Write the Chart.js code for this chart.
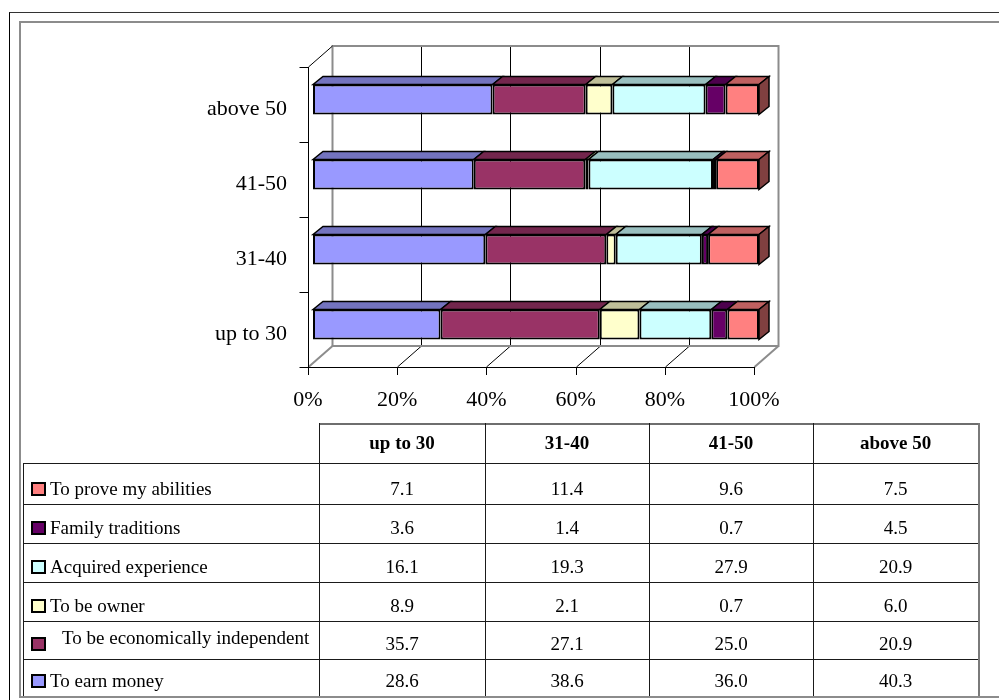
<!DOCTYPE html>
<html>
<head>
<meta charset="utf-8">
<title>Motives by age group</title>
<script src="https://cdn.jsdelivr.net/npm/chart.js@4/dist/chart.umd.min.js"></script>
<style>
  html, body { margin: 0; padding: 0; background: #fff; width: 999px; height: 700px; overflow: hidden;
    font-family: "Times New Roman", "Liberation Serif", serif; }
  #frameOuter { position: absolute; left: 9px; top: 12px; width: 1100px; height: 800px;
    border-left: 1px solid #000; border-top: 1px solid #333; }
  #frameInner { position: absolute; left: 19px; top: 21px; width: 1100px; height: 673px;
    border: 2px solid #8c8c8c; border-right: none; }
  #chartCanvas { position: absolute; left: 0; top: 0; }
  #dataTable { position: absolute; left: 0; top: 0; width: 999px; height: 700px; }
  .hl { position: absolute; height: 0; border-top: 1px solid #1a1a1a; }
  .vl { position: absolute; width: 0; border-left: 1px solid #1a1a1a; }
  .cell { position: absolute; font-size: 19px; line-height: 22px; height: 22px; color: #000; white-space: nowrap; }
  .key { position: absolute; width: 15px; height: 14px; box-sizing: border-box; border: 2px solid #000; }
</style>
</head>
<body>
<div id="frameOuter"></div>
<div id="frameInner"></div>
<canvas id="chartCanvas" width="999" height="440"></canvas>
<div id="dataTable"></div>
<script>
// Age groups (bar rows / table columns)
const ageGroups = ['up to 30', '31-40', '41-50', 'above 50'];

// Motive series, in stacking order from the left
const seriesNames = [
  'To earn money',
  'To be economically independent',
  'To be owner',
  'Acquired experience',
  'Family traditions',
  'To prove my abilities'
];

// Values per age group
const toEarnMoney        = [28.6, 38.6, 36.0, 40.3];
const economicallyIndep  = [35.7, 27.1, 25.0, 20.9];
const toBeOwner          = [8.9, 2.1, 0.7, 6.0];
const acquiredExperience = [16.1, 19.3, 27.9, 20.9];
const familyTraditions   = [3.6, 1.4, 0.7, 4.5];
const toProveAbilities   = [7.1, 11.4, 9.6, 7.5];

const percentTicks = [0, 20, 40, 60, 80, 100];

const seriesValues = [toEarnMoney, economicallyIndep, toBeOwner, acquiredExperience, familyTraditions, toProveAbilities];
const seriesColors = ['#9999FF', '#993366', '#FFFFCC', '#CCFFFF', '#660066', '#FF8080'];

const serif = '"Times New Roman", "Liberation Serif", serif';

// 100% stacking: each value as a share of its age group's total
const totals = ageGroups.map((_, c) => seriesValues.reduce((s, arr) => s + arr[c], 0));
const shares = seriesValues.map(arr => arr.map((v, c) => v / totals[c] * 100));

function shade(hex, f) {
  const n = parseInt(hex.slice(1), 16);
  const r = Math.round(((n >> 16) & 255) * f), g = Math.round(((n >> 8) & 255) * f), b = Math.round((n & 255) * f);
  return `rgb(${r},${g},${b})`;
}

// Offsets of the front (axis) plane, the back wall and the bar depth relative to the bar plane
const FRONT = { dx: -5, dy: 5 };
const BACK = { dx: 19, dy: -16 };
const BAR_DEPTH = { dx: 10, dy: -8 };

const box3d = {
  id: 'box3d',
  beforeDatasetsDraw(chart) {
    const { ctx, chartArea: a, scales: { x } } = chart;
    const fx = v => Math.round(x.getPixelForValue(v) + FRONT.dx) + 0.5;
    const bx = v => Math.round(x.getPixelForValue(v) + BACK.dx) + 0.5;
    const topF = a.top + FRONT.dy, botF = a.bottom + FRONT.dy;
    const topB = a.top + BACK.dy, botB = a.bottom + BACK.dy;
    const line = (x1, y1, x2, y2) => { ctx.beginPath(); ctx.moveTo(x1, y1); ctx.lineTo(x2, y2); ctx.stroke(); };
    const vals = percentTicks;
    const lo = vals[0], hi = vals[vals.length - 1];
    ctx.save();
    // back wall grid and floor lines
    ctx.strokeStyle = '#000'; ctx.lineWidth = 1;
    vals.slice(1, -1).forEach(v => {
      line(bx(v), topB, bx(v), botB);
      line(fx(v), botF, bx(v), botB);
    });
    // wall edges
    ctx.strokeStyle = '#8c8c8c'; ctx.lineWidth = 2;
    ctx.strokeRect(bx(lo), topB, bx(hi) - bx(lo), botB - topB);
    line(fx(lo), botF, bx(lo), botB);
    line(fx(hi), botF, bx(hi), botB);
    // category axis on the left wall
    ctx.strokeStyle = '#000'; ctx.lineWidth = 1;
    line(fx(lo), topF, fx(lo), botF);
    line(fx(lo), topF, bx(lo), topB);
    const n = chart.data.labels.length;
    const band = (a.bottom - a.top) / n;
    for (let k = 0; k <= n; k++) {
      const yy = Math.round(a.top + k * band + FRONT.dy) + 0.5;
      line(fx(lo) - 9, yy, fx(lo), yy);
    }
    // value axis along the front edge
    line(fx(lo), botF + 0.5, fx(hi), botF + 0.5);
    vals.forEach(v => line(fx(v), botF, fx(v), botF + 8));
    ctx.restore();
  },
  afterDatasetsDraw(chart) {
    const { ctx } = chart;
    const poly = (pts, fill) => {
      ctx.beginPath();
      pts.forEach((p, i) => i ? ctx.lineTo(p[0], p[1]) : ctx.moveTo(p[0], p[1]));
      ctx.closePath();
      ctx.fillStyle = fill; ctx.fill();
      ctx.stroke();
    };
    ctx.save();
    ctx.strokeStyle = '#000'; ctx.lineWidth = 1.5; ctx.lineJoin = 'miter';
    chart.data.labels.forEach((_, ci) => {
      let last = null;
      chart.data.datasets.forEach((ds, di) => {
        const el = chart.getDatasetMeta(di).data[ci];
        const p = el.getProps(['x', 'base', 'y', 'height'], true);
        const xl = Math.min(p.x, p.base), xr = Math.max(p.x, p.base);
        const top = p.y - p.height / 2, bottom = p.y + p.height / 2;
        poly([[xl, top], [xl + BAR_DEPTH.dx, top + BAR_DEPTH.dy], [xr + BAR_DEPTH.dx, top + BAR_DEPTH.dy], [xr, top]],
             shade(ds.backgroundColor, 0.75));
        last = { xr, top, bottom, color: ds.backgroundColor };
      });
      if (last) {
        poly([[last.xr, last.top], [last.xr + BAR_DEPTH.dx, last.top + BAR_DEPTH.dy],
              [last.xr + BAR_DEPTH.dx, last.bottom + BAR_DEPTH.dy], [last.xr, last.bottom]],
             shade(last.color, 0.5));
      }
    });
    ctx.restore();
  }
};

new Chart(document.getElementById('chartCanvas').getContext('2d'), {
  type: 'bar',
  data: {
    labels: ageGroups,
    datasets: seriesNames.map((name, i) => ({
      label: name,
      data: shares[i],
      backgroundColor: seriesColors[i],
      borderColor: '#000',
      borderWidth: 2,
      borderSkipped: false,
      barPercentage: 0.4,
      categoryPercentage: 1
    }))
  },
  options: {
    indexAxis: 'y',
    responsive: false,
    animation: false,
    devicePixelRatio: 1,
    layout: { padding: { left: 163, right: 240, top: 62, bottom: 8 } },
    plugins: { legend: { display: false }, tooltip: { enabled: false } },
    scales: {
      x: {
        stacked: true, min: 0, max: 100,
        afterBuildTicks: s => { s.ticks = percentTicks.map(v => ({ value: v })); },
        ticks: { callback: v => v + '%', font: { family: serif, size: 22 }, color: '#000',
                 padding: 17, labelOffset: -5, maxRotation: 0, autoSkip: false },
        grid: { display: false }, border: { display: false },
        afterFit: s => { s.height = 70; }
      },
      y: {
        stacked: true, reverse: true,
        ticks: { font: { family: serif, size: 22 }, color: '#000', padding: 18, labelOffset: 10 },
        grid: { display: false }, border: { display: false },
        afterFit: s => { s.width = 150; }
      }
    }
  },
  plugins: [box3d]
});

// Data table under the chart
(function buildTable() {
  const host = document.getElementById('dataTable');
  const tableLeft = 23;
  const colX = [319, 485, 649, 813, 978];
  const headerTop = 423;
  const rowY = [463, 504, 543, 582, 621, 659, 696];
  const add = (cls, css, text) => {
    const d = document.createElement('div');
    d.className = cls;
    Object.assign(d.style, css);
    if (text !== undefined) d.textContent = text;
    host.appendChild(d);
    return d;
  };
  // grid lines
  add('hl', { left: colX[0] + 'px', top: headerTop + 'px', width: (colX[4] - colX[0]) + 'px', borderTop: '2px solid #6e6e6e' });
  rowY.forEach((yy, i) => {
    if (i === rowY.length - 1) return;
    add('hl', { left: tableLeft + 'px', top: yy + 'px', width: (colX[4] - tableLeft) + 'px' });
  });
  add('vl', { left: tableLeft + 'px', top: rowY[0] + 'px', height: (rowY[6] - rowY[0]) + 'px' });
  colX.forEach((xx, j) => {
    const last = j === colX.length - 1;
    add('vl', { left: xx + 'px', top: headerTop + 'px', height: (rowY[6] - headerTop) + 'px',
                borderLeft: last ? '2px solid #7a7a7a' : '1px solid #1a1a1a' });
  });
  // column headers
  ageGroups.forEach((g, j) => {
    add('cell', { left: colX[j] + 'px', width: (colX[j + 1] - colX[j]) + 'px', top: (443 - 11) + 'px',
                  textAlign: 'center', fontWeight: 'bold' }, g);
  });
  // rows, last series first
  const order = seriesNames.map((_, i) => i).reverse();
  order.forEach((si, r) => {
    const bottom = rowY[r + 1];
    const textMid = bottom - 15;
    const indented = seriesNames[si] === 'To be economically independent';
    const labelMid = indented ? bottom - 21 : textMid;
    add('key', { left: '31px', top: (textMid - 7) + 'px', background: seriesColors[si] });
    add('cell', { left: (indented ? 62 : 50) + 'px', top: (labelMid - 11) + 'px' }, seriesNames[si]);
    seriesValues[si].forEach((v, c) => {
      add('cell', { left: colX[c] + 'px', width: (colX[c + 1] - colX[c]) + 'px', top: (textMid - 11) + 'px',
                    textAlign: 'center' }, v.toFixed(1));
    });
  });
})();
</script>
</body>
</html>
